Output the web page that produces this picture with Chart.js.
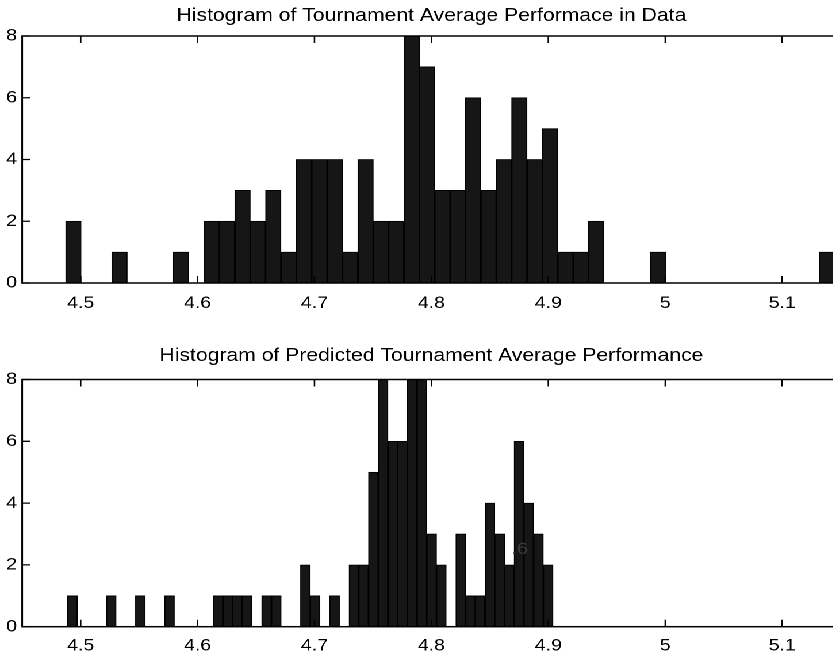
<!DOCTYPE html>
<html>
<head>
<meta charset="utf-8">
<script src="https://cdn.jsdelivr.net/npm/chart.js@4.4.1/dist/chart.umd.min.js"></script>
<style>
  html, body { margin: 0; padding: 0; background: #fff; overflow: hidden; }
  body { width: 833px; height: 656px; position: relative; }
  /* the source figure is stretched sideways, so the whole drawing is too */
  #stretch { position: absolute; left: 0; top: 0; width: 732px; height: 656px;
             transform: scaleX(1.15); transform-origin: 0 0; }
  canvas { display: block; position: absolute; left: 0; }
  #topChart { top: 0; width: 732px; height: 330px; }
  #bottomChart { top: 330px; width: 732px; height: 326px; }
</style>
</head>
<body>
<div id="stretch">
  <canvas id="topChart" width="732" height="330"></canvas>
  <canvas id="bottomChart" width="732" height="326"></canvas>
</div>
<script>
const X_MIN = 4.45;
const X_MAX = 5.15;
const X_TICKS = [4.5, 4.6, 4.7, 4.8, 4.9, 5, 5.1];
const Y_TICKS = [0, 2, 4, 6, 8];

// top: observed tournament averages, 50 bins
const dataTitle = "Histogram of Tournament Average Performace in Data";
const dataBinStart = 4.4872;
const dataBinWidth = 0.013153;
const dataCounts = [
  2, 0, 0, 1, 0, 0, 0, 1, 0, 2,
  2, 3, 2, 3, 1, 4, 4, 4, 1, 4,
  2, 2, 8, 7, 3, 3, 6, 3, 4, 6,
  4, 5, 1, 1, 2, 0, 0, 0, 1, 0,
  0, 0, 0, 0, 0, 0, 0, 0, 0, 1,
];

// bottom: predicted tournament averages, 50 bins
const predTitle = "Histogram of Predicted Tournament Average Performance";
const predBinStart = 4.4888;
const predBinWidth = 0.008304;
const predCounts = [
  1, 0, 0, 0, 1, 0, 0, 1, 0, 0,
  1, 0, 0, 0, 0, 1, 1, 1, 1, 0,
  1, 1, 0, 0, 2, 1, 0, 1, 0, 2,
  2, 5, 8, 6, 6, 8, 8, 3, 2, 0,
  3, 1, 1, 4, 3, 2, 6, 4, 3, 2,
];

// stray label fragment left on the lower plot
const predStray = { x: 4.8755, y: 2.5, text: ".6" };

const FONT = '"Liberation Sans", Arial, Helvetica, sans-serif';
const TICK_LEN = 7;

function binPoints(start, width, counts) {
  return counts.map((c, i) => ({ x: start + (i + 0.5) * width, y: c }));
}

/** MATLAB style box: frame, inward ticks on all sides, title */
const boxPlugin = {
  id: "matlabBox",
  afterDatasetsDraw(chart, args, opts) {
    const { ctx, chartArea: a } = chart;
    const xs = chart.scales.x;
    const ys = chart.scales.y;
    ctx.save();
    ctx.strokeStyle = "#000";
    ctx.lineWidth = 1.3;
    ctx.beginPath();
    for (const v of X_TICKS) {
      const px = xs.getPixelForValue(v);
      ctx.moveTo(px, a.bottom);
      ctx.lineTo(px, a.bottom - TICK_LEN);
      ctx.moveTo(px, a.top);
      ctx.lineTo(px, a.top + TICK_LEN);
    }
    for (const v of Y_TICKS) {
      const py = ys.getPixelForValue(v);
      ctx.moveTo(a.left, py);
      ctx.lineTo(a.left + TICK_LEN, py);
      ctx.moveTo(a.right, py);
      ctx.lineTo(a.right - TICK_LEN, py);
    }
    ctx.stroke();
    ctx.lineWidth = 1.5;
    ctx.strokeRect(a.left, a.top, a.right - a.left, a.bottom - a.top);

    ctx.fillStyle = "#000";
    ctx.font = "18.4px " + FONT;
    ctx.textAlign = "center";
    ctx.textBaseline = "alphabetic";
    ctx.fillText(opts.text, (a.left + a.right) / 2, opts.baseline);

    if (opts.stray) {
      ctx.fillStyle = "#3a3a3a";
      ctx.font = "17px " + FONT;
      ctx.textBaseline = "middle";
      ctx.fillText(opts.stray.text, xs.getPixelForValue(opts.stray.x), ys.getPixelForValue(opts.stray.y));
    }
    ctx.restore();
  },
};

function makeHist(canvas, cfg) {
  return new Chart(canvas, {
    type: "bar",
    data: {
      datasets: [{
        data: binPoints(cfg.start, cfg.width, cfg.counts),
        backgroundColor: "#161616",
        borderColor: "#000",
        borderWidth: 1,
        barPercentage: 1,
        categoryPercentage: 1,
      }],
    },
    options: {
      responsive: false,
      devicePixelRatio: 2,
      animation: false,
      layout: { padding: { top: cfg.plotTop, left: 0, right: 1, bottom: 0 } },
      plugins: {
        legend: { display: false },
        tooltip: { enabled: false },
        matlabBox: { text: cfg.title, baseline: cfg.titleBaseline, stray: cfg.stray || null },
      },
      scales: {
        x: {
          type: "linear",
          min: X_MIN,
          max: X_MAX,
          offset: false,
          grid: { display: false, drawTicks: false },
          border: { display: false },
          afterBuildTicks: (s) => { s.ticks = X_TICKS.map((v) => ({ value: v })); },
          afterFit: (s) => { s.height = cfg.xAxisHeight; },
          ticks: {
            padding: cfg.xLabelPad,
            color: "#000",
            maxRotation: 0,
            autoSkip: false,
            font: { family: FONT, size: 17 },
            callback: (v) => String(v),
          },
        },
        y: {
          min: 0,
          max: 8,
          grid: { display: false, drawTicks: false },
          border: { display: false },
          afterBuildTicks: (s) => { s.ticks = Y_TICKS.map((v) => ({ value: v })); },
          afterFit: (s) => { s.width = 19.3; },
          ticks: {
            padding: 4.5,
            color: "#000",
            font: { family: FONT, size: 17 },
          },
        },
      },
    },
    plugins: [boxPlugin],
  });
}

makeHist(document.getElementById("topChart"), {
  title: dataTitle,
  titleBaseline: 21,
  start: dataBinStart,
  width: dataBinWidth,
  counts: dataCounts,
  plotTop: 36,
  xAxisHeight: 47,
  xLabelPad: 10,
});

makeHist(document.getElementById("bottomChart"), {
  title: predTitle,
  titleBaseline: 31,
  start: predBinStart,
  width: predBinWidth,
  counts: predCounts,
  plotTop: 49.5,
  xAxisHeight: 29.3,
  xLabelPad: 9,
  stray: predStray,
});
</script>
</body>
</html>
